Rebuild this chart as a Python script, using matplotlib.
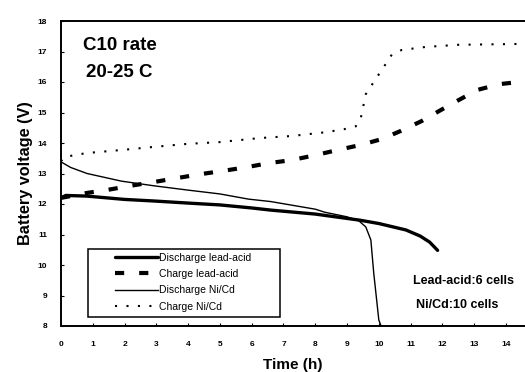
import matplotlib
matplotlib.use('Agg')
import matplotlib.pyplot as plt
from matplotlib.patches import Rectangle

plt.rcParams['font.family'] = ['Liberation Sans', 'DejaVu Sans']

# readings (time in h, voltage in V)
dis_lead_t = [0, 0.15, 0.8, 2.0, 2.9, 4.0, 5.0, 6.0, 6.6, 8.0, 9.4, 10.0, 10.85, 11.3, 11.6, 11.85]
dis_lead_v = [12.2, 12.28, 12.26, 12.15, 12.1, 12.03, 11.97, 11.87, 11.8, 11.67, 11.47, 11.36, 11.15, 10.95, 10.75, 10.48]

chg_lead_t = [0, 0.8, 1.45, 2.2, 2.92, 3.65, 4.4, 5.06, 5.8, 6.54, 7.26, 8.0, 8.7, 9.4, 10.1, 10.7, 11.35, 11.9, 12.5, 13.1, 13.8, 14.4, 14.6]
chg_lead_v = [12.2, 12.36, 12.46, 12.6, 12.72, 12.85, 12.98, 13.08, 13.2, 13.34, 13.44, 13.6, 13.77, 13.93, 14.13, 14.4, 14.72, 15.05, 15.4, 15.74, 15.93, 16.0, 16.0]

dis_nicd_t = [0, 0.3, 0.82, 1.9, 2.9, 3.96, 5.0, 5.9, 6.6, 8.0, 8.3, 9.0, 9.37, 9.59, 9.75, 9.84, 10.0, 10.07]
dis_nicd_v = [13.38, 13.2, 13.0, 12.75, 12.6, 12.46, 12.33, 12.16, 12.08, 11.83, 11.73, 11.58, 11.45, 11.25, 10.82, 9.74, 8.2, 8.0]

chg_nicd_t = [0, 0.1, 0.8, 1.9, 2.9, 3.96, 5.0, 6.23, 7.26, 8.3, 8.9, 9.28, 9.43, 9.59, 9.84, 10.16, 10.41, 10.72, 11.48, 12.5, 14.6]
chg_nicd_v = [13.4, 13.54, 13.67, 13.77, 13.87, 13.97, 14.03, 14.16, 14.23, 14.35, 14.45, 14.55, 14.8, 15.6, 16.0, 16.5, 16.9, 17.05, 17.15, 17.22, 17.25]

x_ticks = list(range(0, 15))
y_ticks = list(range(8, 19))

fig = plt.figure(figsize=(5.25, 3.72), dpi=100)
ax = fig.add_axes([61 / 525, 1 - 326 / 372, 464 / 525, 305 / 372])

ax.plot(dis_lead_t, dis_lead_v, color='black', lw=2.4, label='Discharge lead-acid', solid_capstyle='round')
ax.plot(chg_lead_t, chg_lead_v, color='black', lw=3.0, dashes=(2.2, 3.6), label='Charge lead-acid')
ax.plot(dis_nicd_t, dis_nicd_v, color='black', lw=1.0, label='Discharge Ni/Cd')
ax.plot(chg_nicd_t, chg_nicd_v, color='black', lw=1.5, dashes=(1, 4.5), label='Charge Ni/Cd')

ax.set_xlim(0, 14.6)
ax.set_ylim(8, 18)
ax.set_xticks(x_ticks)
ax.set_yticks(y_ticks)
ax.tick_params(direction='in', length=2, width=0.8, labelsize=6)
ax.tick_params(axis='x', pad=11)
ax.tick_params(axis='y', pad=10)
for lab in ax.get_xticklabels() + ax.get_yticklabels():
    lab.set_fontweight('bold')
ax.spines['right'].set_visible(False)
for s in ['left', 'bottom', 'top']:
    ax.spines[s].set_linewidth(1.4)

ax.set_xlabel('Time (h)', fontsize=11, fontweight='bold', labelpad=7)
ax.set_ylabel('Battery voltage (V)', fontsize=11.7, fontweight='bold', labelpad=3)

ax.text(0.7, 17.2, 'C10 rate', fontsize=13.5, fontweight='bold', va='center')
ax.text(0.8, 16.3, '20-25 C', fontsize=13.5, fontweight='bold', va='center')
ax.text(11.07, 9.48, 'Lead-acid:6 cells', fontsize=9, fontweight='bold', va='center')
ax.text(11.16, 8.69, 'Ni/Cd:10 cells', fontsize=9, fontweight='bold', va='center')

# legend box drawn separately, entries placed inside it
ax.add_patch(Rectangle((0.058, 0.03), 0.414, 0.222, transform=ax.transAxes,
                       fill=False, edgecolor='black', lw=1.1, zorder=5))
leg = ax.legend(loc='upper left', bbox_to_anchor=(0.116, 0.24), fontsize=7.5,
                handlelength=4.1, handletextpad=0.1, labelspacing=0.6,
                borderpad=0, borderaxespad=0, frameon=False)

fig.savefig('out.png', dpi=100)
